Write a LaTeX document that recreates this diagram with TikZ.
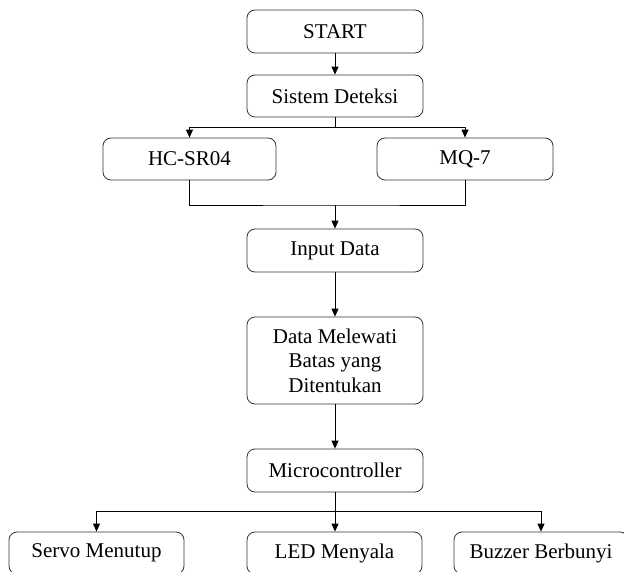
\documentclass[tikz,border=0pt]{standalone}
\usepackage{fontspec}
\setmainfont{Liberation Serif}
\usetikzlibrary{arrows.meta}
\begin{document}
\begin{tikzpicture}[x=1pt,y=1pt,
  box/.style={draw=black!80, line width=0.8pt, rounded corners=8pt, minimum width=176pt, minimum height=43pt, inner sep=2pt, align=center, font=\fontsize{21}{24.5}\selectfont},
  conn/.style={draw=black, line width=0.9pt},
  arr/.style={conn, -{Triangle[length=8pt,width=7pt]}}]
\useasboundingbox (0,0) rectangle (624,571);
\node[box] (start) at (335,539.5) {START};
\node[box, minimum height=42pt] (sis) at (335,475) {Sistem Deteksi};
\node[box, minimum width=173pt, minimum height=42pt] (hc) at (189.5,412) {HC-SR04};
\node[box, minimum height=42pt] (mq) at (465,412) {MQ-7};
\node[box] (inp) at (335,320.5) {Input Data};
\node[box, minimum height=87pt] (data) at (335,210.5) {Data Melewati\\Batas yang\\Ditentukan};
\node[box] (mc) at (335,100.5) {Microcontroller};
\node[box, minimum width=175pt, minimum height=42pt] (servo) at (96.5,18) {Servo Menutup};
\node[box, minimum width=175pt, minimum height=42pt] (led) at (334.5,18) {LED Menyala};
\node[box, minimum width=174pt, minimum height=42pt] (buz) at (541,18) {Buzzer Berbunyi};
\coordinate (j1) at (335,444);
\coordinate (j2) at (335,366);
\coordinate (j3) at (335,60);
\draw[arr] (start) -- (sis);
\draw[conn] (sis.south) -- (j1);
\draw[arr] (j1) -| (hc.north);
\draw[arr] (j1) -| (mq.north);
\draw[conn] (hc.south) |- (j2) -| (mq.south);
\draw[arr] (j2) -- (inp.north);
\draw[arr] (inp) -- (data);
\draw[arr] (data) -- (mc);
\draw[conn] (mc.south) -- (j3);
\draw[arr] (j3) -| (servo.north);
\draw[arr] (j3) -- (j3 |- led.north);
\draw[arr] (j3) -| (buz.north);
\end{tikzpicture}
\end{document}
